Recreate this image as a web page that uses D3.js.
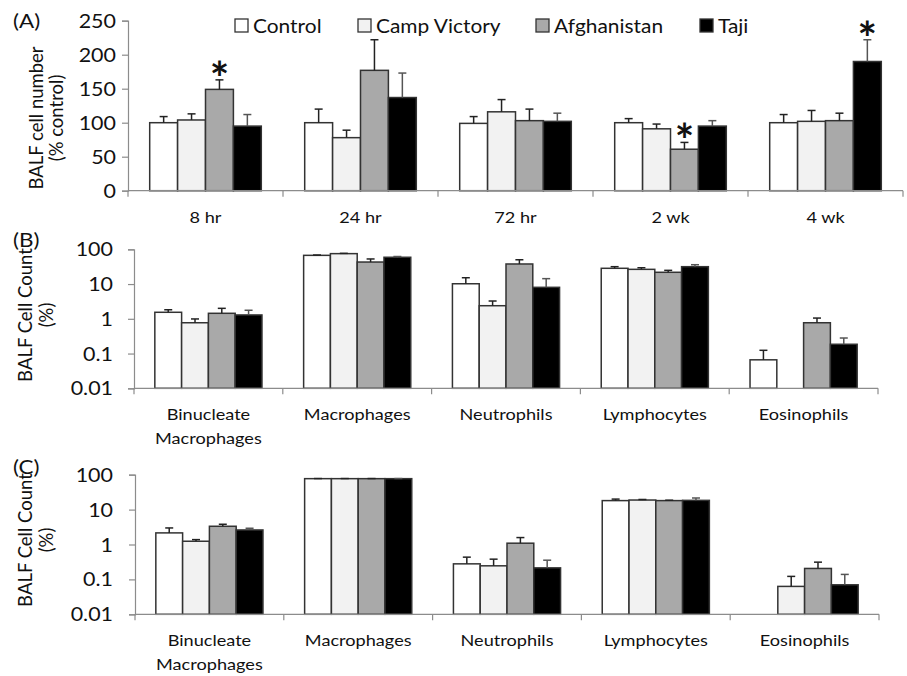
<!DOCTYPE html>
<html>
<head>
<meta charset="utf-8">
<script src="https://cdn.jsdelivr.net/npm/d3@7/dist/d3.min.js"></script>
<style>
  html, body { margin: 0; padding: 0; background: #fff; }
  svg { display: block; font-family: Lato, "Open Sans", sans-serif; }
</style>
</head>
<body>
<svg id="chart" width="907" height="676"></svg>
<script>
// ---------- DATA ----------
const series = ["Control", "Camp Victory", "Afghanistan", "Taji"];
const seriesColors = ["#ffffff", "#f2f2f2", "#a9a9a9", "#000000"];

// Panel A
const timepoints = ["8 hr", "24 hr", "72 hr", "2 wk", "4 wk"];
const aControl = [100, 100, 99, 100, 100];
const aCampVictory = [104, 78, 116, 91, 102];
const aAfghanistan = [149, 177, 103, 61, 103];
const aTaji = [95, 137, 102, 95, 190];
const aControlErr = [9, 20, 10, 6, 12];
const aCampVictoryErr = [9, 11, 18, 7, 16];
const aAfghanistanErr = [14, 45, 17, 10, 11];
const aTajiErr = [17, 36, 12, 8, 32];
const aTicks = [0, 50, 100, 150, 200, 250];
// significance markers: [timepoint index, series index]
const aStars = [[0, 2], [3, 2], [4, 3]];

// Panels B and C
const cellTypes = [["Binucleate", "Macrophages"], ["Macrophages"], ["Neutrophils"], ["Lymphocytes"], ["Eosinophils"]];
const logTicks = [0.01, 0.1, 1, 10, 100];

const bControl = [1.54, 67, 10.2, 28.4, 0.066];
const bCampVictory = [0.77, 75, 2.38, 26.5, null];
const bAfghanistan = [1.44, 43, 37.8, 21.8, 0.77];
const bTaji = [1.29, 59, 8.05, 31.6, 0.185];
const bControlErr = [0.28, 1.5, 5.0, 3.2, 0.058];
const bCampVictoryErr = [0.22, 1.5, 0.87, 3.0, null];
const bAfghanistanErr = [0.56, 9.7, 12.2, 3.0, 0.28];
const bTajiErr = [0.47, 3, 6.25, 4.4, 0.095];

const cControl = [2.15, 77, 0.279, 18.1, null];
const cCampVictory = [1.24, 77, 0.245, 18.8, 0.063];
const cAfghanistan = [3.33, 77, 1.09, 18.1, 0.206];
const cTaji = [2.61, 77, 0.214, 18.4, 0.07];
const cControlErr = [0.83, 0.6, 0.155, 1.9, null];
const cCampVictoryErr = [0.14, 0.6, 0.135, 0.7, 0.059];
const cAfghanistanErr = [0.47, 0.6, 0.49, 0.5, 0.106];
const cTajiErr = [0.31, 0.6, 0.141, 3.1, 0.069];

// ---------- LAYOUT ----------
const svg = d3.select("#chart");
const barStroke = "#333";
const axisColor = "#8c8c8c";
const textColor = "#111";

// text helper with a horizontal stretch (the source text is slightly wide)
function addText(parent, x, y, str, size, anchor, sx) {
  return parent.append("text")
    .attr("transform", `translate(${x},${y}) scale(${sx},1)`)
    .attr("text-anchor", anchor)
    .attr("font-size", size)
    .attr("fill", textColor)
    .text(str);
}

const panels = [
  {
    letter: "(A)", letterY: 28,
    cats: timepoints.map(t => [t]),
    values: [aControl, aCampVictory, aAfghanistan, aTaji],
    errs: [aControlErr, aCampVictoryErr, aAfghanistanErr, aTajiErr],
    x0: 128, x1: 903, yTop: 20.7, yBot: 190.7,
    log: false, ticks: aTicks, tickRight: 116,
    yTitle: ["BALF cell number", "(% control)"], titleCY: 118, titleX: 43, titleGap: 20,
    labelY: 223,
    stars: aStars
  },
  {
    letter: "(B)", letterY: 247,
    cats: cellTypes,
    values: [bControl, bCampVictory, bAfghanistan, bTaji],
    errs: [bControlErr, bCampVictoryErr, bAfghanistanErr, bTajiErr],
    x0: 134, x1: 878, yTop: 249.3, yBot: 388.3,
    log: true, ticks: logTicks, tickRight: 113,
    yTitle: ["BALF Cell Count", "(%)"], titleCY: 315, titleX: 32, titleGap: 21,
    labelY: 420,
    stars: []
  },
  {
    letter: "(C)", letterY: 474,
    cats: cellTypes,
    values: [cControl, cCampVictory, cAfghanistan, cTaji],
    errs: [cControlErr, cCampVictoryErr, cAfghanistanErr, cTajiErr],
    x0: 135, x1: 879, yTop: 474.7, yBot: 614.3,
    log: true, ticks: logTicks, tickRight: 113,
    yTitle: ["BALF Cell Count", "(%)"], titleCY: 540, titleX: 32, titleGap: 21,
    labelY: 646,
    stars: []
  }
];

panels.forEach(p => {
  const g = svg.append("g");
  const catIdx = d3.range(p.cats.length);
  const x = d3.scaleBand().domain(catIdx).range([p.x0, p.x1]).paddingInner(0.28).paddingOuter(0.14);
  const xs = d3.scaleBand().domain(d3.range(series.length)).range([0, x.bandwidth()]).padding(0);
  const y = p.log
    ? d3.scaleLog().domain([0.01, 100]).range([p.yBot, p.yTop])
    : d3.scaleLinear().domain([0, 250]).range([p.yBot, p.yTop]);
  const base = p.log ? 0.01 : 0;

  // bars + error bars
  series.forEach((s, si) => {
    const sg = g.append("g");
    catIdx.forEach(ci => {
      const v = p.values[si][ci];
      if (v == null) return;
      const bx = x(ci) + xs(si);
      sg.append("rect")
        .attr("x", bx).attr("width", xs.bandwidth())
        .attr("y", y(v)).attr("height", y(base) - y(v))
        .attr("fill", seriesColors[si])
        .attr("stroke", barStroke).attr("stroke-width", 1.5);
      const e = p.errs[si][ci];
      if (e == null) return;
      const cx = bx + xs.bandwidth() / 2;
      const errColor = si === 3 ? "#555" : "#222";
      sg.append("line")
        .attr("x1", cx).attr("x2", cx).attr("y1", y(v)).attr("y2", y(v + e))
        .attr("stroke", errColor).attr("stroke-width", 1.5);
      sg.append("line")
        .attr("x1", cx - 4).attr("x2", cx + 4).attr("y1", y(v + e)).attr("y2", y(v + e))
        .attr("stroke", errColor).attr("stroke-width", 1.5);
    });
  });

  // significance stars
  p.stars.forEach(([ci, si]) => {
    const v = p.values[si][ci] + p.errs[si][ci];
    g.append("text")
      .attr("x", x(ci) + xs(si) + xs.bandwidth() / 2)
      .attr("y", y(v) + 15)
      .attr("text-anchor", "middle")
      .attr("font-size", 46).attr("font-weight", "bold")
      .attr("fill", "#111")
      .text("*");
  });

  // y axis (line + ticks from d3, labels drawn stretched)
  const yAxis = d3.axisLeft(y).tickValues(p.ticks).tickSize(6).tickFormat("");
  const ya = g.append("g").attr("transform", `translate(${p.x0},0)`).call(yAxis);
  ya.select(".domain").attr("stroke", axisColor).attr("stroke-width", 1.2);
  ya.selectAll(".tick line").attr("stroke", axisColor).attr("stroke-width", 1.2);
  p.ticks.forEach(t => {
    addText(g, p.tickRight, y(t) + 7, String(t), 19.5, "end", 1.1);
  });

  // x axis line and category-boundary ticks
  g.append("line").attr("x1", p.x0).attr("x2", p.x1).attr("y1", p.yBot).attr("y2", p.yBot)
    .attr("stroke", axisColor).attr("stroke-width", 1.2);
  const bounds = catIdx.map(ci => x(ci) - x.step() * 0.14).concat([p.x1]);
  bounds.forEach(bx => {
    g.append("line").attr("x1", bx).attr("x2", bx).attr("y1", p.yBot).attr("y2", p.yBot + 6)
      .attr("stroke", axisColor).attr("stroke-width", 1.2);
  });

  // category labels
  catIdx.forEach(ci => {
    p.cats[ci].forEach((line, li) => {
      addText(g, x(ci) + x.bandwidth() / 2, p.labelY + li * 24, line, 15.5, "middle", 1.17);
    });
  });

  // y title (rotated)
  p.yTitle.forEach((line, li) => {
    g.append("text")
      .attr("transform", `translate(${p.titleX + li * p.titleGap},${p.titleCY}) rotate(-90)`)
      .attr("text-anchor", "middle").attr("font-size", 18.5).attr("fill", textColor)
      .text(line);
  });

  // panel letter
  addText(g, 13, p.letterY, p.letter, 19.5, "start", 1.15);
});

// legend
const legendX = [235, 358, 536, 700];
const legend = svg.append("g");
series.forEach((s, i) => {
  legend.append("rect").attr("x", legendX[i]).attr("y", 19).attr("width", 13).attr("height", 13)
    .attr("fill", seriesColors[i]).attr("stroke", "#333").attr("stroke-width", 1.3);
  addText(legend, legendX[i] + 18, 33, s, 19, "start", 1.1);
});
</script>
</body>
</html>
